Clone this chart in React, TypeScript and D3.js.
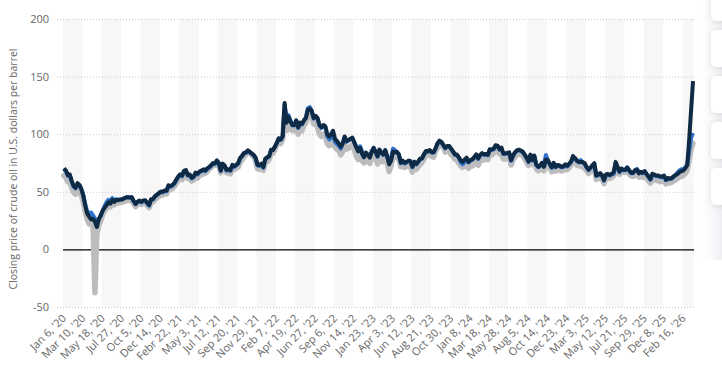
import React, { useEffect, useRef } from "react";
import * as d3 from "d3";

// Tick labels (one every 10 weekly observations)
const tickLabels = [
  "Jan 6, '20", "Mar 10, '20", "May 18, '20", "Jul 27, '20", "Oct 5, '20", "Dec 14, '20",
  "Febr 22, '21", "May 3, '21", "Jul 12, '21", "Sep 20, '21", "Nov 29, '21", "Feb 7, '22",
  "Apr 19, '22", "Jun 27, '22", "Sep 6, '22", "Nov 14, '22", "Jan 23, '23", "Apr 3, '23",
  "Jun 12, '23", "Aug 21, '23", "Oct 30, '23", "Jan 8, '24", "Mar 18, '24", "May 28, '24",
  "Aug 5, '24", "Oct 14, '24", "Dec 23, '24", "Mar 3, '25", "May 12, '25", "Jul 21, '25",
  "Sep 29, '25", "Dec 8, '25", "Feb 16, '26",
];
const yTicks = [-50, 0, 50, 100, 150, 200];
const yTitle = "Closing price of crude oil in U.S. dollars per barrel";

// Series (weekly closing prices, USD per barrel)
const navySeries = [
  70.5, 68.5, 64.5, 65.0, 59.5, 55.0, 53.5, 57.5, 56.0, 52.5, 46.5, 38.0, 31.0, 28.5, 26.0, 26.5, 24.0, 19.5, 26.5, 29.6,
  33.5, 36.2, 38.3, 40.8, 39.7, 43.1, 41.2, 43.1, 42.7, 43.3, 43.4, 44.2, 45.0, 45.4, 45.1, 45.3, 42.0, 39.6, 41.4, 42.4,
  41.3, 42.5, 42.6, 40.5, 38.5, 43.6, 43.8, 46.1, 47.6, 48.8, 50.3, 50.1, 51.1,
  51.1, 55.7, 55.0, 55.9, 57.5, 60.6, 63.3, 65.2, 64.0, 68.2, 68.9, 64.6, 65.0, 62.2, 63.3, 66.6, 65.7, 67.6, 68.3, 69.5,
  68.5, 70.3, 71.5, 73.0, 74.9, 74.7, 77.2, 75.2, 68.6, 74.5, 72.9, 69.0, 69.5, 68.8, 73.4, 72.2, 73.5, 74.9, 79.5, 81.3,
  83.7, 84.3, 86.0, 84.7, 83.4, 82.1, 79.7, 73.4, 73.1, 74.4, 71.5, 78.6,
  80.0, 80.9, 86.5, 86.3, 89.3, 92.7, 96.5, 95.4, 98.0, 127.0, 110, 115, 111, 108, 108, 112, 106, 110, 109, 112,
  114, 121, 122, 120, 114, 116, 114, 108, 106, 108, 107, 100, 98, 100, 103, 96, 94, 92, 89, 92,
  98, 94, 95, 96, 97, 93, 89, 85, 88, 83, 80, 84,
  82.1, 79.7, 84.5, 88.2, 84.9, 81.0, 86.6, 84.1, 82.5, 86.2, 80.8, 73.8, 77.1, 84.9, 84.2, 84.8, 82.7, 75.3, 77.0, 75.2,
  76.0, 77.1, 76.7, 71.8, 76.1, 74.2, 76.3, 78.7, 79.2, 82.7, 85.4, 85.3, 86.2, 84.5, 84.4, 88.0, 92.1, 94.4, 93.3, 90.7,
  88.2, 89.7, 89.8, 87.5, 85.2, 82.5, 82.3, 80.0, 77.2, 76.0, 78.0, 79.7,
  75.9, 77.6, 78.3, 80.1, 82.4, 79.0, 82.0, 83.6, 82.5, 82.8, 82.2, 86.9, 86.8, 87.4, 90.4, 90.1, 87.0, 88.4, 83.3, 83.4,
  83.7, 84.2, 77.5, 81.6, 84.3, 86.0, 86.6, 85.8, 84.9, 82.4, 79.8, 76.3, 82.3, 77.7, 81.4, 73.8, 71.8, 72.8, 75.2, 71.7,
  78.0, 77.5, 74.3, 71.4, 75.1, 71.8, 73.3, 72.8, 71.8, 72.1, 73.9, 72.6, 74.4,
  76.3, 81.0, 79.3, 77.1, 76.0, 75.9, 75.8, 74.8, 71.6, 69.3, 71.1, 73.0, 74.8, 64.2, 64.9, 66.3, 64.3, 60.2, 65.0, 65.5,
  64.7, 65.6, 67.0, 76.0, 72.0, 67.6, 70.2, 69.2, 69.2, 71.3, 68.8, 66.6, 66.6, 68.8, 69.1, 66.0, 67.4, 66.6, 68.0, 65.5,
  63.3, 61.0, 65.6, 64.9, 64.1, 64.2, 63.4, 63.2, 64.0, 60.5, 62.0, 61.5,
  62.0, 63.5, 64.5, 65.5, 67.0, 68.0, 68.5, 70.5, 73.0, 95.0, 121.0, 146.0,
];

const blueSeries = [
  69.5, 67.8, 64.0, 64.3, 58.8, 54.5, 53.0, 56.8, 55.5, 52.0, 47.0, 39.5, 33.0, 31.5, 32.0, 29.5, 27.0, 21.5, 26.0, 29.0,
  33.8, 37.5, 41.0, 43.0, 42.0, 44.5, 42.0, 43.5, 43.0, 43.4, 43.6, 44.4, 45.1, 45.3, 45.0, 45.2, 41.6, 39.2, 41.0, 41.9,
  40.8, 42.0, 42.1, 40.0, 38.0, 43.0, 43.3, 45.6, 47.1, 48.3, 49.8, 49.6, 50.6,
  50.5, 55.1, 54.4, 55.3, 56.9, 60.0, 62.7, 64.6, 63.4, 67.6, 68.3, 64.0, 64.4, 61.6, 62.7, 66.0, 65.1, 67.0, 67.7, 68.9,
  67.9, 69.7, 70.9, 72.4, 74.3, 74.1, 76.6, 74.6, 68.0, 73.9, 72.3, 68.4, 68.9, 68.2, 72.8, 71.6, 72.9, 74.3, 78.9, 80.7,
  83.1, 83.7, 85.4, 84.1, 82.8, 81.5, 79.1, 72.8, 72.5, 73.8, 70.9, 78.0,
  79.5, 80.4, 86.0, 86.0, 89.0, 92.2, 96.0, 95.0, 98.5, 125.5, 113, 116.5, 112, 107.5, 107.5, 111.5, 105.5, 109.5, 108.5, 112,
  114.5, 122.5, 123.5, 120.5, 113.5, 115.5, 113.5, 107.5, 105.5, 107.5, 106.5, 98.5, 95.5, 97, 100.5, 93.5, 91.5, 90, 87.5, 91.5,
  97.5, 93.5, 94.5, 95.5, 96.5, 92.5, 88.5, 86.5, 89.5, 85, 80, 83.5,
  82.0, 81.5, 85.5, 88.0, 84.5, 80.5, 86.0, 83.6, 82.0, 85.7, 80.3, 75.0, 79.5, 87.5, 86.0, 84.3, 82.2, 74.8, 76.5, 74.7,
  75.5, 76.6, 76.2, 71.3, 75.6, 73.7, 75.8, 78.2, 78.7, 82.2, 84.9, 84.8, 85.7, 84.0, 83.9, 87.5, 91.6, 93.9, 92.8, 90.2,
  87.7, 89.2, 89.3, 87.0, 84.7, 82.0, 81.8, 79.5, 75.5, 74.0, 76.0, 79.2,
  75.4, 77.1, 77.8, 79.6, 81.9, 78.5, 81.5, 83.1, 82.0, 82.3, 81.7, 86.4, 86.3, 86.9, 89.9, 89.6, 86.5, 87.9, 82.8, 82.9,
  83.2, 83.7, 77.0, 81.1, 83.8, 85.5, 86.1, 85.3, 84.4, 81.9, 79.3, 75.8, 81.8, 77.2, 80.9, 73.3, 71.3, 72.3, 74.7, 74.0,
  82.0, 77.0, 73.8, 70.9, 74.6, 71.3, 72.8, 72.3, 71.3, 71.6, 73.4, 72.1, 73.9,
  75.8, 80.5, 78.8, 76.6, 75.5, 77.5, 75.3, 74.3, 71.1, 68.8, 70.6, 72.5, 74.3, 63.7, 64.4, 65.8, 63.8, 59.7, 64.5, 65.0,
  64.2, 65.1, 65.5, 73.5, 70.0, 67.1, 69.7, 68.7, 68.7, 70.8, 68.3, 66.1, 66.1, 68.3, 69.8, 67.5, 66.9, 66.1, 67.5, 65.0,
  62.8, 60.5, 65.1, 64.4, 63.6, 63.7, 62.9, 62.7, 63.5, 60.0, 61.5, 61.0,
  61.5, 63.0, 64.5, 66.8, 68.5, 69.5, 69.5, 71.0, 74.0, 85.0, 97.0, 101.0,
];

const greySeries = [
  64.0, 62.5, 58.5, 59.0, 53.5, 49.5, 48.0, 52.0, 50.5, 47.0, 41.0, 32.5, 26.0, 22.0, 23.5, 21.5, -37.6, 13.0, 21.0, 25.0,
  30.5, 33.5, 35.5, 38.0, 37.0, 40.5, 38.8, 40.7, 40.2, 40.8, 40.9, 41.5, 42.2, 42.7, 42.4, 42.6, 39.4, 37.0, 39.0, 40.0,
  39.0, 40.2, 40.3, 38.2, 36.3, 41.0, 41.3, 43.2, 44.8, 45.8, 47.5, 47.3, 48.2,
  48.1, 52.3, 52.0, 52.8, 54.5, 57.3, 59.8, 61.5, 60.6, 65.0, 65.4, 61.5, 61.6, 59.3, 60.2, 63.3, 62.0, 64.5, 65.0, 65.5,
  66.1, 67.7, 69.6, 71.0, 73.5, 73.0, 73.5, 73.0, 66.4, 72.1, 71.3, 66.5, 66.7, 65.6, 69.2, 69.3, 70.5, 71.4, 75.5, 77.6,
  80.5, 82.4, 83.8, 83.9, 81.9, 80.9, 76.8, 69.9, 69.5, 71.3, 68.6, 75.6,
  76.1, 78.2, 83.8, 83.3, 86.9, 91.3, 95.5, 91.9, 95.7, 119.4, 103, 110, 105, 103, 103, 105, 100, 104, 103, 108,
  110, 116, 118, 116, 109, 110, 106, 100, 98, 100, 99, 92, 90, 92, 96, 89, 87, 86, 82, 85,
  92, 87, 88, 89, 91, 87, 81, 78, 81, 77, 75, 79,
  76.9, 74.6, 79.9, 81.6, 79.7, 74.1, 80.1, 76.2, 76.0, 80.5, 74.8, 67.6, 72.8, 80.4, 79.7, 80.8, 78.8, 71.7, 73.2, 71.1,
  72.1, 72.7, 72.5, 67.1, 71.9, 69.4, 71.8, 73.9, 75.6, 78.7, 81.8, 81.9, 82.8, 80.7, 80.1, 85.6, 88.3, 91.2, 89.7, 88.8,
  84.5, 86.4, 86.0, 82.3, 80.8, 78.3, 77.8, 74.9, 72.3, 71.2, 72.5, 75.6,
  70.4, 72.8, 72.4, 75.2, 76.8, 73.0, 76.9, 79.2, 77.6, 78.7, 77.9, 82.7, 81.9, 83.7, 86.4, 85.4, 82.9, 83.9, 78.5, 78.4,
  79.3, 79.8, 73.3, 77.7, 80.3, 81.6, 83.4, 82.3, 81.9, 78.4, 75.8, 72.9, 78.4, 73.7, 77.4, 70.3, 68.2, 69.4, 71.6, 68.2,
  74.1, 73.8, 70.6, 67.4, 71.5, 68.0, 69.2, 68.9, 68.1, 68.6, 70.3, 69.2, 71.0,
  73.6, 78.8, 75.8, 73.2, 72.7, 72.3, 71.7, 70.4, 68.4, 65.9, 67.6, 69.1, 71.2, 60.7, 61.5, 63.1, 61.1, 57.1, 61.9, 62.7,
  61.5, 62.5, 64.0, 72.0, 68.5, 65.1, 68.3, 66.9, 67.2, 69.3, 65.3, 63.9, 63.4, 64.8, 65.6, 62.7, 63.3, 62.6, 63.4, 61.7,
  59.5, 57.5, 61.3, 60.9, 59.8, 59.9, 58.8, 59.3, 60.0, 56.8, 58.0, 57.6,
  58.3, 59.5, 60.3, 61.6, 62.8, 63.5, 64.2, 66.0, 68.5, 78.0, 87.0, 92.0,
];

const W = 722;
const H = 384;

export default function App() {
  const ref = useRef<SVGSVGElement | null>(null);

  useEffect(() => {
    const svg = d3.select(ref.current);
    svg.selectAll("*").remove();

    const n = navySeries.length;
    const left = 63, right = 694, top = 19, bottom = 307;
    const x = d3.scaleBand<number>().domain(d3.range(n)).range([left, right]).padding(0);
    const bw = x.bandwidth();
    const cx = (i: number) => (x(i) as number) + bw / 2;
    const y = d3.scaleLinear().domain([-50, 200]).range([bottom, top]);

    const defs = svg.append("defs");
    const f = defs.append("filter").attr("id", "sh").attr("x", "-50%").attr("y", "-50%").attr("width", "200%").attr("height", "200%");
    f.append("feDropShadow").attr("dx", 0).attr("dy", 1).attr("stdDeviation", 3).attr("flood-color", "#000").attr("flood-opacity", 0.12);
    const grad = defs.append("linearGradient").attr("id", "fade").attr("x1", 0).attr("x2", 1).attr("y1", 0).attr("y2", 0);
    grad.append("stop").attr("offset", "0%").attr("stop-color", "#ffffff").attr("stop-opacity", 0);
    grad.append("stop").attr("offset", "100%").attr("stop-color", "#eef0f3").attr("stop-opacity", 1);

    svg.append("rect").attr("width", W).attr("height", H).attr("fill", "#fff");

    // alternating stripes
    const stripes = d3.range(0, n, 20);
    svg.append("g").selectAll("rect").data(stripes).join("rect")
      .attr("x", (d) => x(d) as number)
      .attr("y", top)
      .attr("width", (d) => Math.min(10, n - d) * bw)
      .attr("height", bottom - top)
      .attr("fill", "#f7f7f7");

    // gridlines
    svg.append("g").selectAll("line").data(yTicks.filter((t) => t !== 0)).join("line")
      .attr("x1", 57).attr("x2", right)
      .attr("y1", (d) => y(d) + 0.5).attr("y2", (d) => y(d) + 0.5)
      .attr("stroke", "#c8c8c8").attr("stroke-width", 1).attr("stroke-dasharray", "1,2");

    // y tick labels
    svg.append("g").selectAll("text").data(yTicks).join("text")
      .attr("x", 49).attr("y", (d) => y(d) + 4)
      .attr("text-anchor", "end")
      .attr("font-family", "Open Sans, sans-serif").attr("font-size", 11)
      .attr("fill", "#666").text((d) => String(d));

    // y title
    svg.append("text")
      .attr("transform", `translate(17,${(top + bottom) / 2 + 6}) rotate(-90)`)
      .attr("text-anchor", "middle")
      .attr("font-family", "Open Sans, sans-serif").attr("font-size", 10.5)
      .attr("fill", "#666").text(yTitle);

    // x tick labels
    svg.append("g").selectAll("text").data(tickLabels).join("text")
      .attr("transform", (_d, k) => `translate(${cx(k * 10) + 3},${bottom + 12}) rotate(-45)`)
      .attr("text-anchor", "end")
      .attr("font-family", "Open Sans, sans-serif").attr("font-size", 11)
      .attr("fill", "#666").text((d) => d);

    // zero line
    svg.append("line").attr("x1", left).attr("x2", right)
      .attr("y1", y(0) + 0.5).attr("y2", y(0) + 0.5)
      .attr("stroke", "#000").attr("stroke-width", 1.2);

    const line = d3.line<number>().x((_d, i) => cx(i)).y((d) => y(d)).curve(d3.curveLinear);

    svg.append("path").datum(greySeries).attr("d", line).attr("fill", "none")
      .attr("stroke", "#bcbcbc").attr("stroke-width", 5.5).attr("stroke-linejoin", "round").attr("stroke-linecap", "round");
    svg.append("path").datum(blueSeries).attr("d", line).attr("fill", "none")
      .attr("stroke", "#2f72cc").attr("stroke-width", 4).attr("stroke-linejoin", "round");
    svg.append("path").datum(navySeries).attr("d", line).attr("fill", "none")
      .attr("stroke", "#0f2a44").attr("stroke-width", 4).attr("stroke-linejoin", "round");

    // right side panel
    svg.append("rect").attr("x", 694).attr("y", 0).attr("width", 28).attr("height", 260).attr("fill", "url(#fade)");
    const boxes = [[-6, 21], [30, 67], [76, 113], [122, 159], [168, 205]];
    svg.append("g").selectAll("rect").data(boxes).join("rect")
      .attr("x", 711).attr("y", (d) => d[0]).attr("width", 24).attr("height", (d) => d[1] - d[0])
      .attr("rx", 5).attr("fill", "#fff").attr("filter", "url(#sh)");
  }, []);

  return (
    <svg ref={ref} width={W} height={H} style={{ position: "absolute", left: 0, top: 0 }} />
  );
}
